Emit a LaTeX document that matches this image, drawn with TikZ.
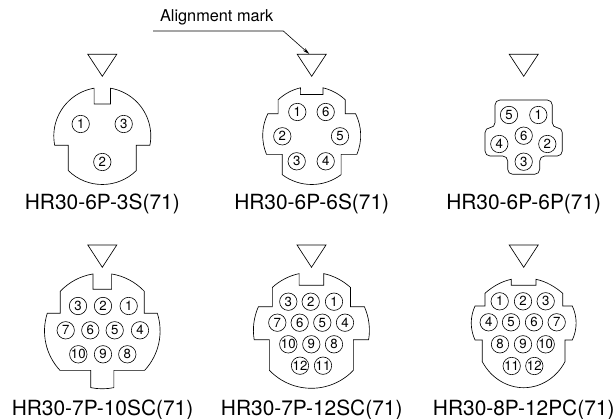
\documentclass[tikz,border=0pt]{standalone}
\usepackage{fontspec}
\setmainfont{TeX Gyre Heros}
\usetikzlibrary{arrows.meta}
\tikzset{
  pinmark/.style={draw,circle,minimum size=17.4pt,inner sep=0pt,line width=0.6pt,font=\fontsize{13.2}{13}\selectfont},
  partlabel/.style={anchor=base,inner sep=0pt,font=\fontsize{20.9}{24}\selectfont},
  outline/.style={draw,line width=0.65pt,line join=miter},
  markertri/.style={draw,line width=0.65pt,line join=miter},
}
\newcommand\pinat[4]{\node[pinmark] (#1) at (#2,418-#3) {#4};}
\newcommand\tri[1]{\draw[markertri] (#1-14.5,418-54.3) -- (#1+14.5,418-54.3) -- (#1,418-76.3) -- cycle;}
\newcommand\trib[1]{\draw[markertri] (#1-14.5,418-245) -- (#1+14.5,418-245) -- (#1,418-267.3) -- cycle;}
\begin{document}
\begin{tikzpicture}[x=1pt,y=1pt]
\useasboundingbox (0,0) rectangle (616,418);
% alignment mark
\node[anchor=base,inner sep=0pt,font=\fontsize{16.3}{18}\selectfont] (amark) at (216.7,418-21.5) {Alignment mark};
\coordinate (lead0) at (153,418-31);
\coordinate (lead1) at (283.3,418-31);
\coordinate (lead2) at (309.3,418-54);
\draw[line width=0.6pt,-{Stealth[length=7pt,width=3.5pt]}] (lead0) -- (lead1) -- (lead2);
% triangles
\tri{102.3}\tri{311.7}\tri{523.7}
\trib{102.3}\trib{311.5}\trib{523.7}
% 3S
\begin{scope}[shift={(102.3,418-136)}]
\path[outline] (99.7:48.5) arc[start angle=99.7,end angle=191,radius=48.5pt]
  -| (225.5:48.5) arc[start angle=225.5,end angle=314.5,radius=48.5pt]
  |- (349:48.5) arc[start angle=349,end angle=440.3,radius=48.5pt]
  -- (8.2,32) -- (-8.2,32) -- cycle;
\end{scope}
\pinat{a1}{80.7}{124}{1}\pinat{a3}{123.7}{124}{3}\pinat{a2}{102.3}{162}{2}
\node[partlabel] (la) at (102.3,418-210) {HR30-6P-3S(71)};
% 6S
\begin{scope}[shift={(311.7,418-135.5)}]
\path[outline] (103.3:49) arc[start angle=103.3,end angle=133.3,radius=49pt]
  |- (153.6:49) arc[start angle=153.6,end angle=202.6,radius=49pt]
  -| (233.1:49) arc[start angle=233.1,end angle=306.9,radius=49pt]
  |- (337.4:49) arc[start angle=337.4,end angle=386.4,radius=49pt]
  -| (46.7:49) arc[start angle=46.7,end angle=76.7,radius=49pt]
  -- (11.3,41) -- (-11.3,41) -- cycle;
\end{scope}
\pinat{b1}{297.3}{112}{1}\pinat{b6}{325.7}{112}{6}\pinat{b2}{282.3}{136.3}{2}
\pinat{b5}{340}{136.3}{5}\pinat{b3}{296.7}{161.3}{3}\pinat{b4}{325.7}{161.3}{4}
\node[partlabel] (lb) at (311.7,418-210) {HR30-6P-6S(71)};
% 6P
\path[outline,rounded corners=5pt] (495,418-100) -- (552.3,418-100) -- (552.3,418-127.7) -- (562.3,418-127.7)
  -- (562.3,418-156) -- (539.7,418-156) -- (539.7,418-174.3) -- (507.7,418-174.3) -- (507.7,418-156)
  -- (485,418-156) -- (485,418-127.7) -- (495,418-127.7) -- cycle;
\pinat{c5}{509}{115}{5}\pinat{c1}{538.3}{115}{1}\pinat{c6}{523.7}{135.7}{6}
\pinat{c4}{499.3}{144}{4}\pinat{c2}{547.3}{144}{2}\pinat{c3}{523.7}{161.7}{3}
\node[partlabel] (lc) at (523.7,418-210) {HR30-6P-6P(71)};
% 10SC
\begin{scope}[shift={(102.3,418-331)}]
\path[outline] (99.26:57.8) arc[start angle=99.26,end angle=136.6,radius=57.8pt]
  |- (162.17:57.8) arc[start angle=162.17,end angle=223,radius=57.8pt]
  -| (258.4:57.8) arc[start angle=258.4,end angle=281.6,radius=57.8pt]
  |- (317:57.8) arc[start angle=317,end angle=377.83,radius=57.8pt]
  -| (43.4:57.8) arc[start angle=43.4,end angle=80.74,radius=57.8pt]
  -- (9.3,41.7) -- (-9.3,41.7) -- cycle;
\end{scope}
\pinat{d3}{78}{306}{3}\pinat{d2}{103}{306}{2}\pinat{d1}{128.7}{306}{1}
\pinat{d7}{65.7}{330.3}{7}\pinat{d6}{90.3}{330.3}{6}\pinat{d5}{114.7}{330.3}{5}\pinat{d4}{140}{330.3}{4}
\pinat{d10}{78.3}{354.3}{10}\pinat{d9}{103}{354.3}{9}\pinat{d8}{127.3}{354.3}{8}
\node[partlabel] (ld) at (102.5,418-415) {HR30-7P-10SC(71)};
% 12SC
\begin{scope}[shift={(311.4,418-330.3)}]
\path[outline] (102.24:58) arc[start angle=102.24,end angle=132.3,radius=58pt]
  |- (156:58) arc[start angle=156,end angle=189.4,radius=58pt]
  -| (223.6:58) arc[start angle=223.6,end angle=316.4,radius=58pt]
  |- (350.6:58) arc[start angle=350.6,end angle=384,radius=58pt]
  -| (47.7:58) arc[start angle=47.7,end angle=77.76,radius=58pt]
  -- (12.3,45) -- (-12.3,45) -- cycle;
\end{scope}
\pinat{e3}{288.3}{301.7}{3}\pinat{e2}{310.7}{301.7}{2}\pinat{e1}{334}{301.7}{1}
\pinat{e7}{277.3}{322.7}{7}\pinat{e6}{299.7}{322.7}{6}\pinat{e5}{322.3}{322.7}{5}\pinat{e4}{345}{322.7}{4}
\pinat{e10}{288.3}{344.3}{10}\pinat{e9}{311.3}{344.3}{9}\pinat{e8}{334}{344.3}{8}
\pinat{e12}{300}{365.7}{12}\pinat{e11}{323}{365.7}{11}
\node[partlabel] (le) at (311.7,418-415) {HR30-7P-12SC(71)};
% 12PC
\path[outline] (511.3,418-279.3) .. controls (501,418-281.5) and (492,418-287) .. (485,418-293.3)
  -- (485,418-306) -- (475,418-306)
  .. controls (470,418-317) and (470,418-329) .. (475,418-340)
  -- (482.3,418-340) -- (482.3,418-361.7)
  .. controls (491,418-378) and (507,418-387.7) .. (523.7,418-387.7)
  .. controls (540.4,418-387.7) and (556.4,418-378) .. (565,418-361.7)
  -- (565,418-340) -- (572.3,418-340)
  .. controls (577.4,418-329) and (577.4,418-317) .. (572.3,418-306)
  -- (562.7,418-306) -- (562.7,418-293.3)
  .. controls (555.4,418-287) and (546.4,418-281.5) .. (536,418-279.3)
  -- (536,418-285.3) -- (511.3,418-285.3) -- cycle;
\pinat{f1}{499.7}{301.3}{1}\pinat{f2}{523}{301.3}{2}\pinat{f3}{545.7}{301.3}{3}
\pinat{f4}{488.7}{322.3}{4}\pinat{f5}{511}{322.3}{5}\pinat{f6}{534}{322.3}{6}\pinat{f7}{556.7}{322.3}{7}
\pinat{f8}{500}{344.3}{8}\pinat{f9}{523}{344.3}{9}\pinat{f10}{545.7}{344.3}{10}
\pinat{f11}{511.7}{366}{11}\pinat{f12}{534.3}{366}{12}
\node[partlabel] (lf) at (523.7,418-415) {HR30-8P-12PC(71)};
\end{tikzpicture}
\end{document}
